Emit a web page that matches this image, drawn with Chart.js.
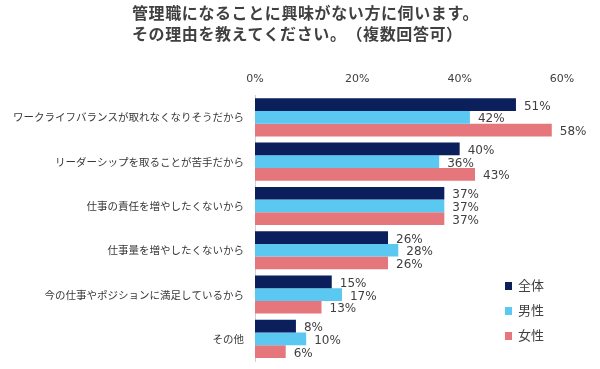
<!DOCTYPE html>
<html lang="ja">
<head>
<meta charset="utf-8">
<script src="https://cdn.jsdelivr.net/npm/chart.js@4/dist/chart.umd.min.js"></script>
<style>
    html, body { margin: 0; padding: 0; background: #fff; }
    #wrap { position: relative; width: 600px; height: 369px; }
    canvas { display: block; }
    #title {
        position: absolute; left: 132px; top: 2px;
        font-family: "Noto Sans CJK JP", sans-serif;
        font-weight: bold; font-size: 16px; line-height: 21px;
        letter-spacing: 0.6px; color: #404040;
        text-spacing-trim: space-all;
        font-feature-settings: "halt" 0, "palt" 0;
    }
    #legend {
        position: absolute; left: 505px; top: 276px;
        font-family: "Noto Sans CJK JP", sans-serif;
        font-size: 13px; color: #404040;
    }
    #legend div { height: 25px; line-height: 17px; white-space: nowrap; }
    #legend span {
        display: inline-block; width: 7px; height: 8px;
        margin-right: 6px; vertical-align: 0px;
    }
</style>
</head>
<body>
<div id="wrap">
    <canvas id="chart" width="600" height="369"></canvas>
    <div id="title">管理職になることに興味がない方に伺います。<br>その理由を教えてください。（複数回答可）</div>
    <div id="legend"></div>
</div>
<script>
const categories = [
    "ワークライフバランスが取れなくなりそうだから",
    "リーダーシップを取ることが苦手だから",
    "仕事の責任を増やしたくないから",
    "仕事量を増やしたくないから",
    "今の仕事やポジションに満足しているから",
    "その他",
];
const seriesNames = ["全体", "男性", "女性"];
const allValues = [51, 40, 37, 26, 15, 8];
const maleValues = [42, 36, 37, 28, 17, 10];
const femaleValues = [58, 43, 37, 26, 13, 6];
const tickValues = [0, 20, 40, 60];

const colors = ["#0a1f5c", "#5ac8f0", "#e5777c"];

// value labels at the end of each bar
const barLabels = {
    id: "barLabels",
    afterDatasetsDraw(chart) {
        const ctx = chart.ctx;
        ctx.save();
        ctx.font = "12px 'DejaVu Sans', sans-serif";
        ctx.fillStyle = "#404040";
        ctx.textBaseline = "middle";
        ctx.textAlign = "left";
        chart.data.datasets.forEach((ds, i) => {
            chart.getDatasetMeta(i).data.forEach((bar, j) => {
                ctx.fillText(ds.data[j] + "%", bar.x + 8, bar.y + 2);
            });
        });
        ctx.restore();
    },
};

const legend = document.getElementById("legend");
seriesNames.forEach((name, i) => {
    const row = document.createElement("div");
    row.innerHTML = `<span style="background:${colors[i]}"></span>${name}`;
    legend.appendChild(row);
});

new Chart("chart", {
    type: "bar",
    data: {
        labels: categories,
        datasets: [allValues, maleValues, femaleValues].map((values, i) => ({
            label: seriesNames[i],
            data: values,
            backgroundColor: colors[i],
            barPercentage: 1,
            categoryPercentage: 0.86,
        })),
    },
    options: {
        indexAxis: "y",
        responsive: false,
        animation: false,
        layout: {
            padding: { top: 64, right: 38, bottom: 8, left: 0 },
        },
        scales: {
            x: {
                position: "top",
                min: 0,
                max: 60,
                afterBuildTicks: (scale) => {
                    scale.ticks = tickValues.map((v) => ({ value: v }));
                },
                grid: { display: false, drawTicks: false },
                border: { display: false },
                ticks: {
                    padding: 9,
                    color: "#404040",
                    font: { family: "'DejaVu Sans', sans-serif", size: 11 },
                    callback: (v) => v + "%",
                },
            },
            y: {
                afterFit: (scale) => {
                    scale.width = 255;
                    scale.paddingTop = 0;
                    scale.paddingBottom = 0;
                },
                grid: { display: false, drawTicks: false },
                border: { display: true, color: "#d0d0d0", width: 1 },
                ticks: {
                    padding: 11,
                    color: "#383838",
                    font: { family: "'Noto Sans CJK JP', sans-serif", size: 10.5 },
                },
            },
        },
        plugins: {
            legend: { display: false },
            title: { display: false },
            tooltip: { enabled: false },
        },
    },
    plugins: [barLabels],
});
</script>
</body>
</html>
